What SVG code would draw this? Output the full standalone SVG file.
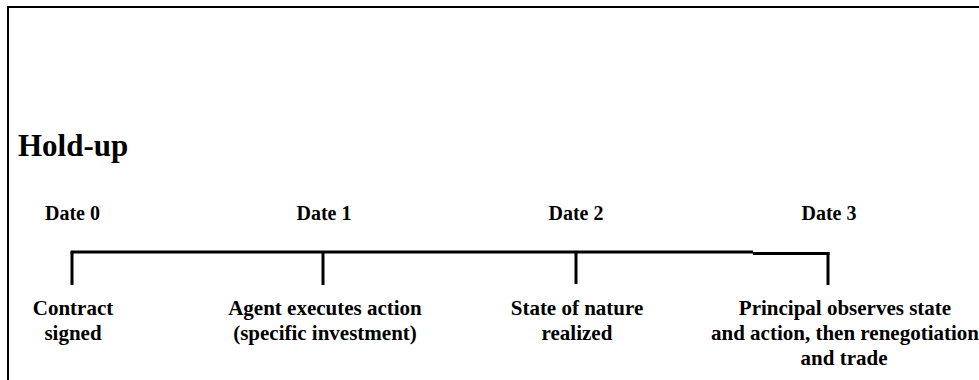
<svg xmlns="http://www.w3.org/2000/svg" width="979" height="380" viewBox="0 0 979 380">
<style>
text{font-family:"Liberation Serif","Times New Roman",serif;font-weight:bold;fill:#000;text-anchor:middle}
.date{font-size:20px}
.lbl{font-size:21px}
.ln{stroke:#000;stroke-width:3;fill:none}
</style>
<rect width="979" height="380" fill="#fff"/>
<path d="M8,380 V7 H979" stroke="#000" stroke-width="2" fill="none"/>
<text x="18" y="156" style="font-size:31px;text-anchor:start">Hold-up</text>
<g id="connectors">
<path class="ln" d="M70.5,252 H753"/>
<path class="ln" d="M753,253.5 H829.5"/>
</g>
<g id="date0">
<text class="date" x="72.5" y="220">Date 0</text>
<path class="ln" d="M72,252 V285"/>
<text class="lbl" x="73" y="315">Contract</text>
<text class="lbl" x="73" y="340">signed</text>
</g>
<g id="date1">
<text class="date" x="324" y="220">Date 1</text>
<path class="ln" d="M323,252 V285"/>
<text class="lbl" x="325" y="315">Agent executes action</text>
<text class="lbl" x="325" y="340">(specific investment)</text>
</g>
<g id="date2">
<text class="date" x="576" y="220">Date 2</text>
<path class="ln" d="M576,252 V284"/>
<text class="lbl" x="577" y="315">State of nature</text>
<text class="lbl" x="577" y="340">realized</text>
</g>
<g id="date3">
<text class="date" x="829" y="220">Date 3</text>
<path class="ln" d="M828,252 V285"/>
<text class="lbl" x="845" y="315">Principal observes state</text>
<text class="lbl" x="845" y="340">and action, then renegotiation</text>
<text class="lbl" x="844" y="365">and trade</text>
</g>
</svg>
